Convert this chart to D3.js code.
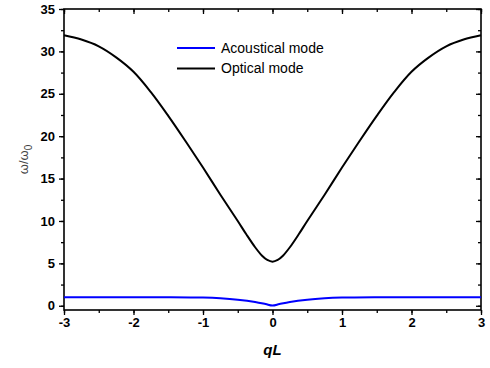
<!DOCTYPE html>
<html>
<head>
<meta charset="utf-8">
<script src="https://cdn.jsdelivr.net/npm/d3@7"></script>
<style>
  body { margin: 0; background: #fff; }
  svg { display: block; font-family: Arial, "Liberation Sans", sans-serif; }
</style>
</head>
<body>
<div id="chart"></div>
<script>
// Data
const qOptical = [-3, -2.75, -2.5, -2.25, -2, -1.75, -1.5, -1.25, -1, -0.75, -0.5, -0.375, -0.25, -0.15, -0.075, 0,
  0.075, 0.15, 0.25, 0.375, 0.5, 0.75, 1, 1.25, 1.5, 1.75, 2, 2.25, 2.5, 2.75, 3];
const optical = [31.9, 31.4, 30.6, 29.3, 27.6, 25.2, 22.4, 19.4, 16.3, 13.1, 10.0, 8.4, 6.9, 5.9, 5.4, 5.2,
  5.4, 5.9, 6.9, 8.4, 10.0, 13.1, 16.3, 19.4, 22.4, 25.2, 27.6, 29.3, 30.6, 31.4, 31.9];

const qAcoustic = [-3, -2, -1.5, -1, -0.75, -0.5, -0.25, -0.1, 0, 0.1, 0.25, 0.5, 0.75, 1, 1.5, 2, 3];
const acoustic = [1.0, 1.0, 1.0, 0.96, 0.88, 0.72, 0.45, 0.2, 0.02, 0.2, 0.45, 0.72, 0.88, 0.96, 1.0, 1.0, 1.0];

const xTicks = [-3, -2, -1, 0, 1, 2, 3];
const yTicks = [0, 5, 10, 15, 20, 25, 30, 35];
const legendLabels = ['Acoustical mode', 'Optical mode'];
const seriesColors = ['#0000ff', '#000000'];

const width = 490, height = 368;
const margin = {left: 64, right: 9, top: 9, bottom: 58};

const svg = d3.select('#chart').append('svg')
  .attr('width', width)
  .attr('height', height);

const x = d3.scaleLinear().domain([-3, 3]).range([margin.left, width - margin.right]);
const y = d3.scaleLinear().domain([-0.5, 35]).range([height - margin.bottom, margin.top]);

const xMinor = d3.range(-3, 3.01, 0.5);
const yMinor = d3.range(0, 35.01, 2.5);

const axisStyle = g => {
  g.select('.domain').remove();
  g.attr('font-family', null).attr('font-size', null);
  g.selectAll('line').attr('stroke', '#000').attr('stroke-width', 1.3);
  g.selectAll('text')
    .attr('fill', '#000')
    .attr('font-size', 13)
    .attr('font-weight', 'bold');
};
const fmt = d => String(d);

// minor ticks first, then major ticks with labels
svg.append('g')
  .attr('transform', `translate(0,${y.range()[0]})`)
  .call(d3.axisBottom(x).tickValues(xMinor).tickSize(3).tickFormat(''))
  .call(axisStyle);
svg.append('g')
  .attr('transform', `translate(0,${y.range()[0]})`)
  .call(d3.axisBottom(x).tickValues(xTicks).tickSize(5).tickPadding(3).tickFormat(fmt))
  .call(axisStyle);

svg.append('g')
  .attr('transform', `translate(${x.range()[0]},0)`)
  .call(d3.axisLeft(y).tickValues(yMinor).tickSize(3).tickFormat(''))
  .call(axisStyle);
svg.append('g')
  .attr('transform', `translate(${x.range()[0]},0)`)
  .call(d3.axisLeft(y).tickValues(yTicks).tickSize(5).tickPadding(4).tickFormat(fmt))
  .call(axisStyle);

// mirrored ticks, pointing inward
svg.append('g')
  .attr('transform', `translate(0,${y.range()[1]})`)
  .call(d3.axisBottom(x).tickValues(xMinor).tickSize(3).tickFormat(''))
  .call(axisStyle);
svg.append('g')
  .attr('transform', `translate(0,${y.range()[1]})`)
  .call(d3.axisBottom(x).tickValues(xTicks).tickSize(5).tickFormat(''))
  .call(axisStyle);
svg.append('g')
  .attr('transform', `translate(${x.range()[1]},0)`)
  .call(d3.axisLeft(y).tickValues(yMinor).tickSize(3).tickFormat(''))
  .call(axisStyle);
svg.append('g')
  .attr('transform', `translate(${x.range()[1]},0)`)
  .call(d3.axisLeft(y).tickValues(yTicks).tickSize(5).tickFormat(''))
  .call(axisStyle);

// frame
svg.append('rect')
  .attr('x', x.range()[0])
  .attr('y', y.range()[1])
  .attr('width', x.range()[1] - x.range()[0])
  .attr('height', y.range()[0] - y.range()[1])
  .attr('fill', 'none')
  .attr('stroke', '#000')
  .attr('stroke-width', 1.6);

const line = d3.line()
  .x(d => x(d[0]))
  .y(d => y(d[1]))
  .curve(d3.curveCatmullRom.alpha(0.5));

svg.append('path')
  .datum(d3.zip(qAcoustic, acoustic))
  .attr('d', line)
  .attr('fill', 'none')
  .attr('stroke', seriesColors[0])
  .attr('stroke-width', 2);

svg.append('path')
  .datum(d3.zip(qOptical, optical))
  .attr('d', line)
  .attr('fill', 'none')
  .attr('stroke', seriesColors[1])
  .attr('stroke-width', 2);

// legend
const legend = svg.append('g').attr('transform', 'translate(177,48)');
legendLabels.forEach((label, i) => {
  const row = legend.append('g').attr('transform', `translate(0,${i * 20.5})`);
  row.append('line')
    .attr('x1', 0).attr('x2', 38)
    .attr('stroke', seriesColors[i])
    .attr('stroke-width', 2);
  row.append('text')
    .attr('x', 44)
    .attr('dy', '0.35em')
    .attr('font-size', 14)
    .text(label);
});

// axis titles
svg.append('text')
  .attr('x', x(0))
  .attr('y', 355)
  .attr('text-anchor', 'middle')
  .attr('font-size', 15)
  .attr('font-weight', 'bold')
  .attr('font-style', 'italic')
  .text('qL');

const yTitle = svg.append('text')
  .attr('transform', `translate(28,${(y.range()[0] + y.range()[1]) / 2}) rotate(-90)`)
  .attr('text-anchor', 'middle')
  .attr('font-size', 13)
  .attr('fill', '#444');
yTitle.append('tspan').text('ω/ω');
yTitle.append('tspan').attr('dy', 4).attr('font-size', 10).text('0');
</script>
</body>
</html>
